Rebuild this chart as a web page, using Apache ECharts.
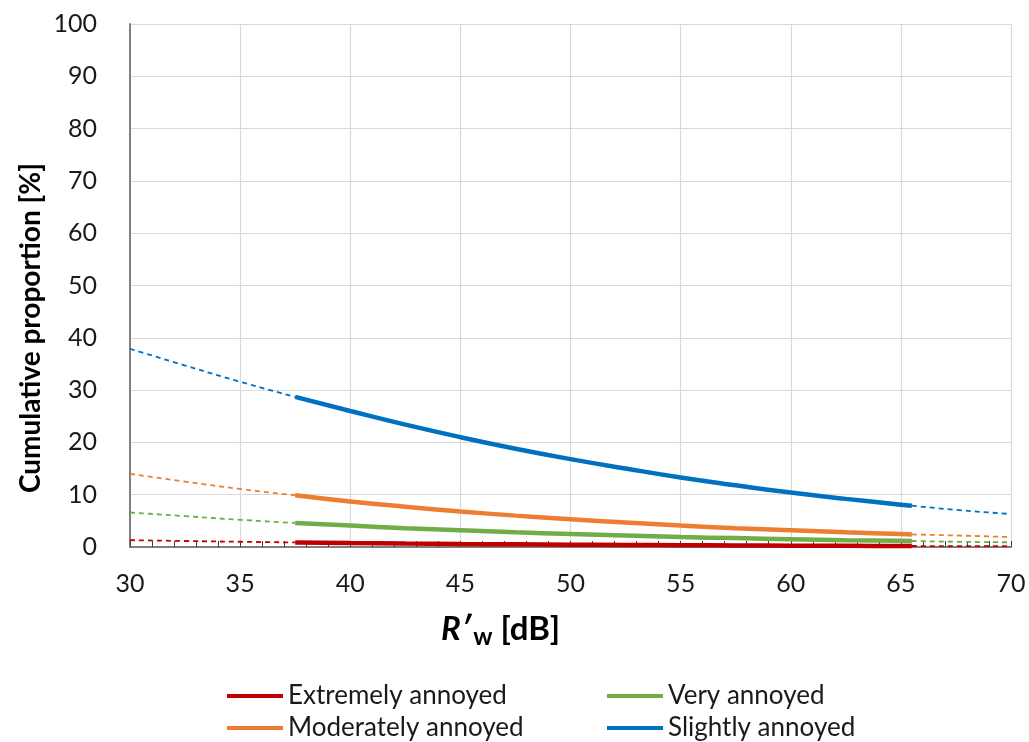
<!DOCTYPE html>
<html><head><meta charset="utf-8">
<script src="https://cdn.jsdelivr.net/npm/echarts@6/dist/echarts.min.js"></script>
<style>html,body{margin:0;padding:0;background:#fff}#c{width:1029px;height:742px}</style>
</head><body><div id="c"></div>
<script>
// x positions (R'w, dB)
const xs = [30, 32.5, 35, 37.5, 40, 42.5, 45, 47.5, 50, 52.5, 55, 57.5, 60, 62.5, 65, 65.5, 67.5, 70];
// cumulative proportions [%]
const extremely  = [1.3, 1.15, 1.0, 0.87, 0.76, 0.66, 0.58, 0.51, 0.44, 0.38, 0.34, 0.29, 0.26, 0.22, 0.19, 0.19, 0.17, 0.15];
const very       = [6.6, 5.9, 5.2, 4.6, 4.1, 3.6, 3.2, 2.8, 2.5, 2.2, 1.9, 1.7, 1.5, 1.3, 1.2, 1.15, 1.0, 0.9];
const moderately = [14.0, 12.5, 11.1, 9.9, 8.7, 7.7, 6.8, 6.0, 5.3, 4.7, 4.1, 3.6, 3.2, 2.8, 2.5, 2.4, 2.2, 1.9];
const slightly   = [37.9, 34.7, 31.6, 28.7, 26.0, 23.4, 21.0, 18.8, 16.8, 15.0, 13.3, 11.8, 10.4, 9.2, 8.1, 7.9, 7.1, 6.3];
// measured (solid) range vs extrapolated (dashed)
const solidFrom = 37.5, solidTo = 65.5;

const names = ['Extremely annoyed', 'Very annoyed', 'Moderately annoyed', 'Slightly annoyed'];
const colors = ['#C00000', '#70AD47', '#ED7D31', '#0070C0'];
const data = [extremely, very, moderately, slightly];

function pick(vals, lo, hi) {
  const out = [];
  xs.forEach((x, i) => { if (x >= lo && x <= hi) out.push([x, vals[i]]); });
  return out;
}

const series = [];
[3, 2, 1, 0].forEach(k => {
  series.push({ name: names[k] + ' ', type: 'line', data: pick(data[k], 30, solidFrom), showSymbol: false,
    lineStyle: { color: colors[k], width: 1.8, type: [5, 4] }, itemStyle: { color: colors[k] }, smooth: true, silent: true, z: 2 });
  series.push({ name: names[k] + '  ', type: 'line', data: pick(data[k], solidTo, 70), showSymbol: false,
    lineStyle: { color: colors[k], width: 1.8, type: [5, 4] }, itemStyle: { color: colors[k] }, smooth: true, silent: true, z: 2 });
  series.push({ name: names[k], type: 'line', data: pick(data[k], solidFrom, solidTo), showSymbol: false,
    lineStyle: { color: colors[k], width: 4.5 }, itemStyle: { color: colors[k] }, smooth: true, z: 3 });
});

const legendText = { fontFamily: 'Lato', fontSize: 26, color: '#1a1a1a' };
const legendPos = [[227, 683], [607, 683], [227, 715], [607, 715]];
const legendOrder = ['Extremely annoyed', 'Very annoyed', 'Moderately annoyed', 'Slightly annoyed'];
const legends = legendOrder.map((n, i) => ({
  left: legendPos[i][0], top: legendPos[i][1], padding: 0, itemWidth: 56, itemHeight: 4, icon: 'rect',
  itemGap: 0, textStyle: legendText, data: [n], selectedMode: false
}));

const chart = echarts.init(document.getElementById('c'));
chart.setOption({
  animation: false,
  grid: { left: 130, right: 18, top: 24, bottom: 195, containLabel: false },
  xAxis: {
    type: 'value', min: 30, max: 70, interval: 5,
    axisLine: { show: true, onZero: false, lineStyle: { color: '#808080', width: 2 } },
    axisTick: { show: true, inside: true, length: 6, lineStyle: { color: '#404040', width: 1 } },
    minorTick: { show: true, splitNumber: 5, length: 6, lineStyle: { color: '#404040', width: 1 } },
    axisLabel: { fontFamily: 'Lato', fontSize: 25, color: '#1a1a1a', margin: 24 },
    splitLine: { show: true, lineStyle: { color: '#d9d9d9', width: 1.2 } }
  },
  yAxis: {
    type: 'value', min: 0, max: 100, interval: 10,
    axisLine: { show: true, lineStyle: { color: '#808080', width: 2 } },
    axisTick: { show: false },
    axisLabel: { fontFamily: 'Lato', fontSize: 25, color: '#1a1a1a', margin: 33 },
    splitLine: { show: true, lineStyle: { color: '#d9d9d9', width: 1.2 } }
  },
  legend: legends,
  graphic: [{
    type: 'text', x: 31, y: 328, rotation: Math.PI / 2,
    style: {
      text: 'Cumulative proportion [%]', align: 'center', verticalAlign: 'middle',
      fontFamily: 'Lato', fontSize: 28, fontWeight: 'bold', fill: '#000'
    }
  }, {
    type: 'text', left: 441, top: 613,
    style: {
      text: "{r|R′}{w|w}{u| [dB]}",
      rich: {
        r: { fontFamily: 'Lato', fontSize: 33, fontWeight: 'bold', fontStyle: 'italic', fill: '#000' },
        w: { fontFamily: 'Lato', fontSize: 24, fontWeight: 'bold', fill: '#000', verticalAlign: 'bottom', padding: [16, 0, 0, 2] },
        u: { fontFamily: 'Lato', fontSize: 33, fontWeight: 'bold', fill: '#000' }
      }
    }
  }],
  series: series
});
</script>
</body></html>
